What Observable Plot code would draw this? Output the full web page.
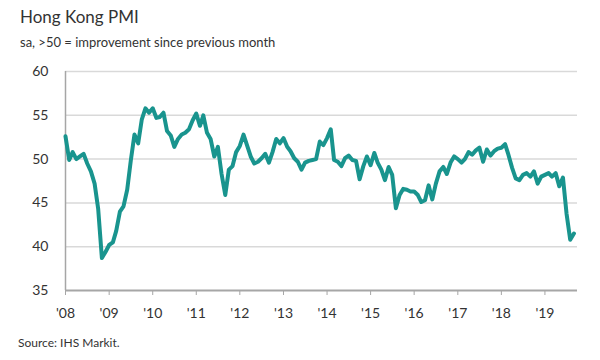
<!DOCTYPE html>
<html>
<head>
<meta charset="utf-8">
<script src="https://cdn.jsdelivr.net/npm/d3@7"></script>
<script src="https://cdn.jsdelivr.net/npm/@observablehq/plot@0.6"></script>
<style>
  html, body { margin: 0; padding: 0; background: #fff; }
  #wrap { position: relative; width: 600px; height: 360px; font-family: "Source Sans Pro", Lato, "Open Sans", sans-serif; color: #333; }
  #title { position: absolute; left: 20px; top: 6px; font-size: 17px; }
  #subtitle { position: absolute; left: 20px; top: 34px; font-size: 13px; }
  #chart { position: absolute; left: 0; top: 55px; }
  #caption { position: absolute; left: 18px; top: 335px; font-size: 12px; }
  #chart .tick line, #chart [aria-label="x-axis tick"] { stroke: #a6a6a6; }
</style>
</head>
<body>
<div id="wrap">
  <div id="title">Hong Kong PMI</div>
  <div id="subtitle">sa, &gt;50 = improvement since previous month</div>
  <div id="chart"></div>
  <div id="caption">Source: IHS Markit.</div>
</div>
<script>
// Monthly PMI readings, Jan of each year onward
const pmi2008 = [52.6, 49.9, 50.8, 50.0, 50.3, 50.6, 49.5, 48.6, 47.2, 44.3, 38.7, 39.4];
const pmi2009 = [40.2, 40.5, 41.8, 44.0, 44.6, 46.5, 49.8, 52.8, 51.8, 54.5, 55.8, 55.3];
const pmi2010 = [55.8, 54.7, 54.8, 55.3, 53.2, 52.7, 51.4, 52.3, 52.8, 53.0, 53.4, 54.4];
const pmi2011 = [55.2, 53.8, 55.0, 53.0, 52.3, 50.3, 51.4, 48.3, 45.9, 48.8, 49.2, 50.8];
const pmi2012 = [51.5, 52.8, 51.6, 50.3, 49.5, 49.7, 50.1, 50.6, 49.6, 50.8, 52.3, 51.8];
const pmi2013 = [52.4, 51.4, 50.9, 50.1, 49.7, 48.8, 49.6, 49.8, 49.9, 50.0, 52.0, 51.6];
const pmi2014 = [52.4, 53.4, 49.9, 49.7, 49.2, 50.1, 50.4, 49.9, 49.8, 47.7, 49.2, 50.3];
const pmi2015 = [49.3, 50.7, 49.6, 48.8, 47.6, 49.1, 48.2, 44.4, 45.9, 46.6, 46.5, 46.3];
const pmi2016 = [46.3, 45.9, 45.1, 45.3, 47.0, 45.4, 47.2, 48.6, 49.1, 48.3, 49.6, 50.3];
const pmi2017 = [50.0, 49.6, 50.0, 50.8, 50.5, 51.0, 51.3, 49.7, 51.1, 50.4, 50.9, 51.2];
const pmi2018 = [51.3, 51.7, 50.5, 49.0, 47.8, 47.6, 48.2, 48.4, 48.0, 48.6, 47.2, 48.0];
const pmi2019 = [48.2, 48.4, 48.0, 48.4, 46.9, 47.9, 43.8, 40.8, 41.5];

const years = [2008, 2009, 2010, 2011, 2012, 2013, 2014, 2015, 2016, 2017, 2018, 2019];
const tickLabels = ["'08", "'09", "'10", "'11", "'12", "'13", "'14", "'15", "'16", "'17", "'18", "'19"];
const yTicks = [35, 40, 45, 50, 55, 60];
const gridValues = [40, 45, 50, 55, 60];

const series = [pmi2008, pmi2009, pmi2010, pmi2011, pmi2012, pmi2013, pmi2014, pmi2015, pmi2016, pmi2017, pmi2018, pmi2019];
const data = [];
series.forEach((arr, yi) => arr.forEach((v, m) => data.push({date: new Date(Date.UTC(years[yi], m, 1)), value: v})));

const yearTicks = years.map(y => new Date(Date.UTC(y, 0, 1)));
const start = new Date(Date.UTC(2008, 0, 1));
const end = new Date(Date.UTC(2019, 9, 1));

const chart = Plot.plot({
  width: 600,
  height: 270,
  marginTop: 16,
  marginBottom: 35,
  marginLeft: 65,
  marginRight: 23,
  style: {fontFamily: '"Source Sans Pro", Lato, "Open Sans", sans-serif', fontSize: "14px", color: "#333", background: "#fff"},
  x: {
    type: "utc",
    domain: [start, end],
    ticks: yearTicks,
    tickFormat: d => tickLabels[years.indexOf(d.getUTCFullYear())],
    tickSize: 5,
    tickPadding: 13,
    label: null
  },
  y: {
    domain: [35, 60],
    ticks: yTicks,
    tickSize: 0,
    tickPadding: 17,
    label: null
  },
  marks: [
    Plot.ruleY(gridValues, {stroke: "#d9d9d9", strokeWidth: 1.5}),
    Plot.ruleX([start], {stroke: "#a6a6a6", strokeWidth: 1.5}),
    Plot.ruleY([35], {stroke: "#a6a6a6", strokeWidth: 2}),
    Plot.line(data, {x: "date", y: "value", stroke: "#19948e", strokeWidth: 4, strokeLinejoin: "round", strokeLinecap: "round"})
  ]
});
document.getElementById("chart").appendChild(chart);
</script>
</body>
</html>
